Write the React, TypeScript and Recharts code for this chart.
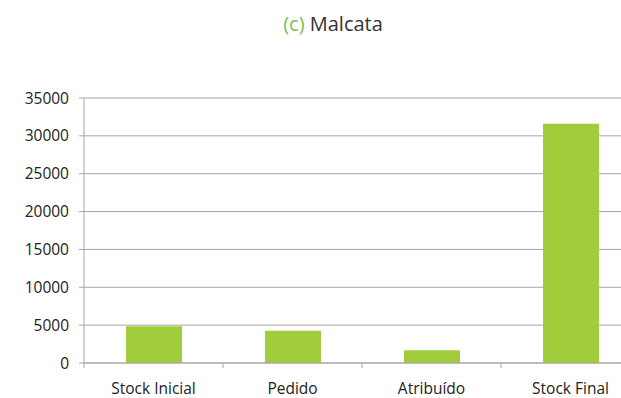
import React from 'react';
import { BarChart, Bar, XAxis, YAxis, CartesianGrid } from 'recharts';

const categories = ['Stock Inicial', 'Pedido', 'Atribuído', 'Stock Final'];
const stockValues = [4850, 4250, 1700, 31600];
const yTicks = [0, 5000, 10000, 15000, 20000, 25000, 30000, 35000];

const data = categories.map((name, i) => ({ name, value: stockValues[i] }));

const CHART_W = 660;
const CHART_H = 398;
const MARGIN = { top: 98, right: 20, bottom: 5, left: 0 };
const Y_AXIS_W = 84;
const PLOT_W = CHART_W - MARGIN.left - MARGIN.right - Y_AXIS_W;
const HALF_BAND = PLOT_W / categories.length / 2;

const FONT = '"Open Sans", sans-serif';
const GRID = '#a6a6a6';

const XTick = (props: any) => {
  const { x, y, payload } = props;
  const left = x - HALF_BAND;
  return (
    <g>
      <line x1={left} y1={y} x2={left} y2={y + 5} stroke={GRID} strokeWidth={1} />
      <text x={x} y={y + 31} textAnchor="middle" fontFamily={FONT} fontSize={15.5} fill="#222">
        {payload.value}
      </text>
    </g>
  );
};

export default function App() {
  return (
    <div style={{ position: 'fixed', left: 0, top: 0, width: 621, height: 398, overflow: 'hidden', background: '#fff' }}>
      <svg width={621} height={50} style={{ position: 'absolute', left: 0, top: 0 }}>
        <text x={333} y={30.7} textAnchor="middle" fontFamily={FONT} fontSize={20}>
          <tspan fill="#77c14f">(c)</tspan>
          <tspan fill="#333"> Malcata</tspan>
        </text>
      </svg>
      <div style={{ position: 'absolute', left: 0, top: 0 }}>
        <BarChart width={CHART_W} height={CHART_H} data={data} margin={MARGIN}>
          <CartesianGrid vertical={false} stroke={GRID} strokeWidth={1} />
          <XAxis
            dataKey="name"
            height={30}
            axisLine={{ stroke: GRID }}
            tickLine={false}
            tickSize={0}
            tickMargin={0}
            tick={<XTick />}
            interval={0}
          />
          <YAxis
            width={Y_AXIS_W}
            domain={[0, 35000]}
            ticks={yTicks}
            interval={0}
            axisLine={{ stroke: GRID }}
            tickLine={{ stroke: GRID }}
            tickSize={5}
            tickMargin={10}
            tick={{ fontFamily: FONT, fontSize: 15.5, fill: '#222' }}
          />
          <Bar dataKey="value" fill="#a1cc3b" barSize={56} isAnimationActive={false} />
        </BarChart>
      </div>
    </div>
  );
}
